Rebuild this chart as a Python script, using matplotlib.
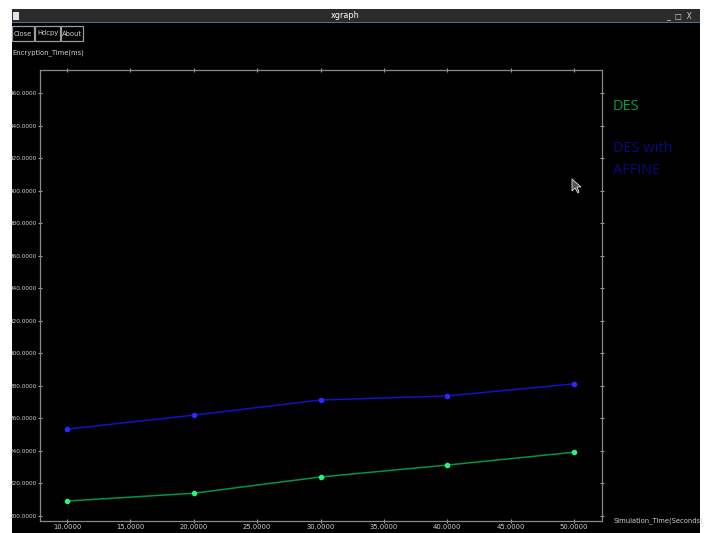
import matplotlib.pyplot as plt
from matplotlib.patches import Rectangle

# simulation time (s) and encryption time (ms)
sim_time = [10, 20, 30, 40, 50]
des = [209.2, 214.0, 224.0, 231.3, 239.2]
des_affine = [253.4, 262.0, 271.3, 273.8, 281.2]

x_ticks = [10, 15, 20, 25, 30, 35, 40, 45, 50]
y_ticks = [200, 220, 240, 260, 280, 300, 320, 340, 360, 380, 400, 420, 440, 460]

W, H = 705, 533
fig = plt.figure(figsize=(W / 100, H / 100), dpi=100, facecolor='white')

def fx(px):
    return px / W

def fy(py):
    return 1 - py / H

small = dict(family='DejaVu Sans', stretch='condensed', fontsize=5.4)
grey = '#d0d0d0'

def box(x0, y0, x1, y1, **kw):
    r = Rectangle((fx(x0), fy(y1)), fx(x1) - fx(x0), fy(y0) - fy(y1),
                  transform=fig.transFigure, **kw)
    fig.patches.append(r)
    return r

# window body and title bar
box(12, 22, 700, 533, facecolor='black', edgecolor='none', zorder=-3)
box(12, 9, 700, 22, facecolor='#2b2b2b', edgecolor='none', zorder=-3)
box(12, 22, 700, 23, facecolor='#4f6f8f', edgecolor='none', zorder=-2)
box(13, 12, 19, 20, facecolor='#dde6f0', edgecolor='none', zorder=-2)
fig.text(fx(345), fy(15.5), 'xgraph', color='white', fontsize=6.5, family='DejaVu Sans',
         stretch='condensed', ha='center', va='center')
fig.text(fx(692), fy(15.5), '_  \u25a1  X', color='#cccccc', fontsize=5.5, family='DejaVu Sans',
         ha='right', va='center')

# buttons
for label, x0, x1 in [('Close', 12, 34), ('Hdcpy', 35, 60), ('About', 61, 83)]:
    box(x0, 26, x1, 41, facecolor='black', edgecolor='#9a9a9a', linewidth=0.9, zorder=-2)
    fig.text(fx((x0 + x1) / 2), fy(33.5), label, color=grey, ha='center', va='center', **small)

fig.text(fx(12), fy(53), 'Encryption_Time(ms)', color=grey, ha='left', va='center', **small)
fig.text(fx(613), fy(521), 'Simulation_Time(Seconds)', color=grey, ha='left', va='center', **small)

# plot area
ax = fig.add_axes([fx(40), fy(521), fx(602) - fx(40), fy(70) - fy(521)], zorder=1)
ax.set_facecolor('black')
ax.plot(sim_time, des, color='#00934c', linewidth=1.1, marker='o', markersize=3,
        markerfacecolor='#2cf080', markeredgecolor='#2cf080')
ax.plot(sim_time, des_affine, color='#1212c8', linewidth=1.1, marker='o', markersize=3,
        markerfacecolor='#2a2aff', markeredgecolor='#2a2aff')

px_x = (574 - 67) / 40
px_y = (516 - 93) / 260
ax.set_xlim(10 - (67 - 40) / px_x, 50 + (602 - 574) / px_x)
ax.set_ylim(200 - (521 - 516) / px_y, 460 + (93 - 70) / px_y)

ax.set_xticks(x_ticks)
ax.set_xticklabels(['%.4f' % v for v in x_ticks])
ax.set_yticks(y_ticks)
ax.set_yticklabels(['%.4f' % v for v in y_ticks])
ax.tick_params(colors='#9a9a9a', labelcolor=grey, labelsize=5.4, length=3, width=0.8,
               direction='inout', top=True, right=True, pad=1)
ax.tick_params(axis='y', labelsize=4.6, pad=0.5)
for lab in ax.get_xticklabels() + ax.get_yticklabels():
    lab.set_family('DejaVu Sans')
    lab.set_stretch('condensed')
for sp in ax.spines.values():
    sp.set_color('#8a8a8a')
    sp.set_linestyle((0, (1, 1)))
    sp.set_linewidth(0.9)

# legend text
fig.text(fx(613), fy(107), 'DES', color='#00a040', fontsize=10.5, family=['Open Sans', 'DejaVu Sans'],
         ha='left', va='center', zorder=3)
fig.text(fx(613), fy(159.5), 'DES with\nAFFINE', color='#0a0a7c', fontsize=10.5,
         family=['Open Sans', 'DejaVu Sans'], ha='left', va='center', linespacing=1.55, zorder=3)

# pointer
cur = plt.Polygon([(fx(572), fy(179)), (fx(572), fy(191)), (fx(575), fy(188)),
                   (fx(578), fy(193)), (fx(579), fy(192)), (fx(577), fy(187)), (fx(581), fy(187))],
                  closed=True, transform=fig.transFigure, facecolor='#555555',
                  edgecolor='#dddddd', linewidth=0.6, zorder=3)
fig.patches.append(cur)

fig.savefig('out.png', dpi=100, facecolor='white')
